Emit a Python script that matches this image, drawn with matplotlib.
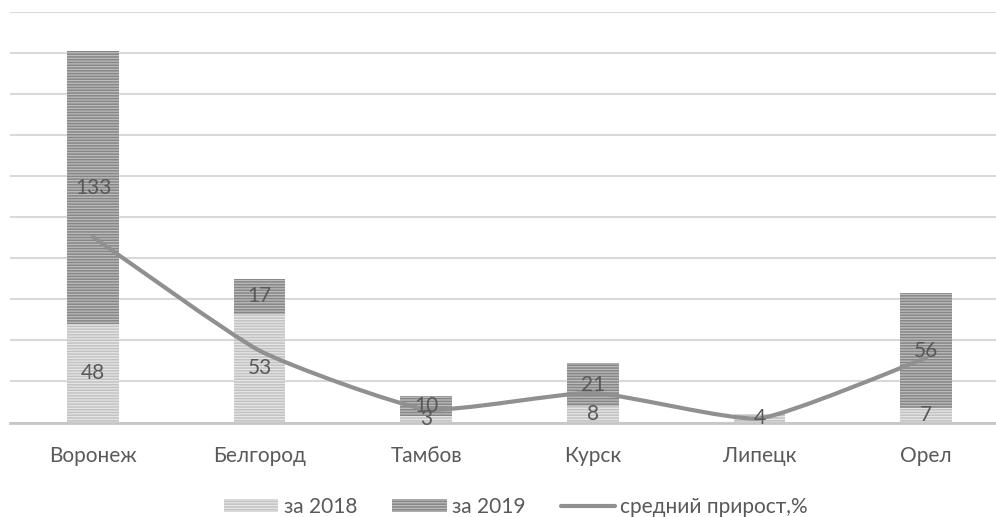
import numpy as np
import matplotlib.pyplot as plt
from matplotlib.path import Path
from matplotlib.patches import PathPatch, Patch
from matplotlib.lines import Line2D

plt.rcParams['font.family'] = ['Lato', 'DejaVu Sans']
plt.rcParams['hatch.linewidth'] = 1.1

# data
regions = ['Воронеж', 'Белгород', 'Тамбов', 'Курск', 'Липецк', 'Орел']
y2018 = [48, 53, 3, 8, 4, 7]
y2019 = [133, 17, 10, 21, 0, 56]
growth = [90.5, 35, 6.5, 14.5, 2, 31.5]

# colours
txt = '#595959'
grid = '#d9d9d9'
light_face = '#e6e6e6'
light_hatch = '#c2c2c2'
dark_face = '#bdbdbd'
dark_hatch = '#868686'
line_col = '#909090'

fig = plt.figure(figsize=(9.96, 5.17), dpi=100)
ax = fig.add_axes([9.7 / 996, 94.5 / 517, 999.6 / 996, 410.2 / 517])

x = np.arange(len(regions))
w = 0.31
ax.bar(x, y2018, w, color=light_face, edgecolor=light_hatch, linewidth=0,
       hatch='------', zorder=2)
ax.bar(x, y2019, w, bottom=y2018, color=dark_face, edgecolor=dark_hatch,
       linewidth=0, hatch='------', zorder=2)

# data labels in the middle of each segment
for i in range(len(regions)):
    if y2018[i]:
        ax.text(x[i], y2018[i] / 2, str(y2018[i]), ha='center', va='center',
                fontsize=15, color=txt, zorder=5)
    if y2019[i]:
        ax.text(x[i], y2018[i] + y2019[i] / 2, str(y2019[i]), ha='center',
                va='center', fontsize=15, color=txt, zorder=5)

# lightly smoothed line, as Excel draws it
pts = np.column_stack([x, growth]).astype(float)
verts = [pts[0]]
codes = [Path.MOVETO]
n = len(pts)
k = 12
for i in range(n - 1):
    p0 = pts[max(i - 1, 0)]
    p1 = pts[i]
    p2 = pts[i + 1]
    p3 = pts[min(i + 2, n - 1)]
    c1 = p1 + (p2 - p0) / k
    c2 = p2 - (p3 - p1) / k
    verts += [c1, c2, p2]
    codes += [Path.CURVE4] * 3
ax.add_patch(PathPatch(Path(verts, codes), facecolor='none', edgecolor=line_col,
                       linewidth=3.0, capstyle='round', joinstyle='round', zorder=4))

ax.set_ylim(0, 200)
ax.set_xlim(-0.5, len(regions) - 0.5)
ax.set_yticks(np.arange(0, 201, 20))
ax.yaxis.grid(True, color=grid, linewidth=1.5, zorder=0)
ax.set_axisbelow(True)
ax.tick_params(axis='y', left=False, labelleft=False)
ax.tick_params(axis='x', length=0, pad=17, labelsize=15, labelcolor=txt)
ax.set_xticks(x)
ax.set_xticklabels(regions)
for s in ['top', 'right', 'left']:
    ax.spines[s].set_visible(False)
ax.spines['bottom'].set_color('#c6c6c6')
ax.spines['bottom'].set_linewidth(2)
ax.spines['bottom'].set_zorder(3)

handles = [
    Patch(facecolor=light_face, edgecolor=light_hatch, linewidth=0, hatch='------'),
    Patch(facecolor=dark_face, edgecolor=dark_hatch, linewidth=0, hatch='------'),
    Line2D([], [], color=line_col, linewidth=3.0, solid_capstyle='round'),
]
fig.legend(handles, ['за 2018', 'за 2019', 'средний прирост,%'],
           loc='center', bbox_to_anchor=(516 / 996, 10 / 517), ncol=3,
           frameon=False, fontsize=15, labelcolor=txt, handlelength=2.6,
           handleheight=0.55, handletextpad=0.25, columnspacing=1.7)

fig.savefig('out.png', dpi=100)
